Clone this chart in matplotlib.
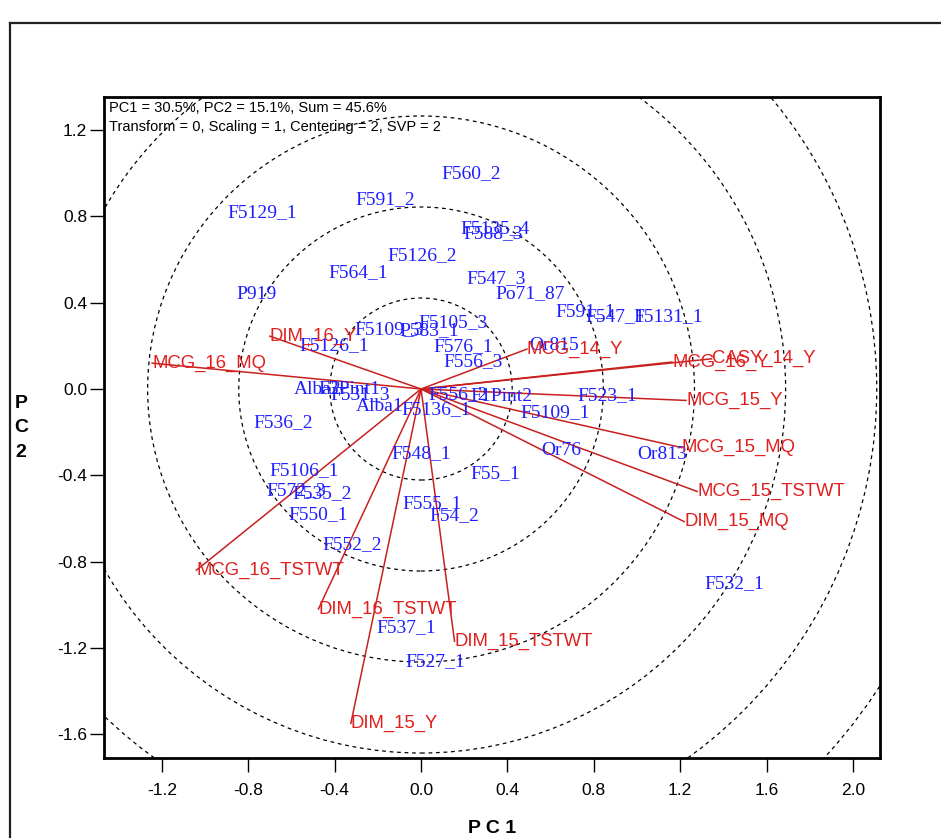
import matplotlib
matplotlib.use("Agg")
import matplotlib.pyplot as plt
from matplotlib.patches import Circle
from matplotlib.lines import Line2D

# ---- data ----
geno_names = ["F560_2", "F591_2", "F5129_1", "F5135_4", "F588_3", "F5126_2", "F564_1",
              "F547_3", "Po71_87", "P919", "F591_1", "F547_1", "F5131_1", "F5105_3",
              "F5109_3", "P583_1", "F5126_1", "F576_1", "F556_3", "Or815", "Alba2",
              "F3Pint1", "F531_3", "Alba1", "F5136_1", "F556_2", "F1Pint2", "F523_1",
              "F5109_1", "F536_2", "Or76", "Or813", "F548_1", "F55_1", "F5106_1",
              "F572_3", "F535_2", "F550_1", "F555_1", "F54_2", "F552_2", "F537_1",
              "F527_1", "F532_1"]
geno_x = [0.231, -0.167, -0.736, 0.343, 0.333, 0.005, -0.290,
          0.347, 0.505, -0.760, 0.760, 0.898, 1.143, 0.148,
          -0.150, 0.040, -0.400, 0.194, 0.240, 0.615, -0.477,
          -0.330, -0.280, -0.190, 0.070, 0.170, 0.370, 0.860,
          0.620, -0.640, 0.650, 1.116, 0.000, 0.343, -0.540,
          -0.580, -0.460, -0.477, 0.050, 0.153, -0.320, -0.070,
          0.065, 1.449]
geno_y = [0.997, 0.876, 0.816, 0.745, 0.722, 0.617, 0.540,
          0.510, 0.440, 0.440, 0.360, 0.336, 0.334, 0.306,
          0.275, 0.270, 0.200, 0.195, 0.125, 0.200, 0.000,
          0.000, -0.025, -0.080, -0.097, -0.025, -0.035, -0.030,
          -0.110, -0.157, -0.287, -0.306, -0.300, -0.394, -0.380,
          -0.470, -0.487, -0.584, -0.533, -0.589, -0.723, -1.108,
          -1.266, -0.904]

var_names = ["MCG_16_MQ", "DIM_16_Y", "MCG_16_TSTWT", "DIM_16_TSTWT", "DIM_15_Y",
             "DIM_15_TSTWT", "DIM_15_MQ", "MCG_15_TSTWT", "MCG_15_MQ", "MCG_15_Y",
             "MCG_16_Y", "CASY_14_Y", "MCG_14_Y"]
var_x = [-1.245, -0.700, -1.040, -0.475, -0.325,
         0.155, 1.218, 1.278, 1.208, 1.227,
         1.162, 1.345, 0.490]
var_y = [0.120, 0.245, -0.840, -1.020, -1.550,
         -1.170, -0.615, -0.475, -0.272, -0.053,
         0.125, 0.140, 0.185]

circle_radii = [0.422, 0.844, 1.266, 1.688, 2.110, 2.532]

xticks = [-1.2, -0.8, -0.4, 0.0, 0.4, 0.8, 1.2, 1.6, 2.0]
yticks = [1.2, 0.8, 0.4, 0.0, -0.4, -0.8, -1.2, -1.6]

info_line1 = "PC1 = 30.5%, PC2 = 15.1%, Sum = 45.6%"
info_line2 = "Transform = 0, Scaling = 1, Centering = 2, SVP = 2"

# ---- figure ----
fig = plt.figure(figsize=(9.41, 8.38), dpi=100)
ax = fig.add_axes([104 / 941, 1 - 758 / 838, (880 - 104) / 941, (758 - 97) / 838])
ax.set_xlim(-1.468, 2.125)
ax.set_ylim(-1.711, 1.354)

# outer frame
fx = 10 / 941
fy = 1 - 23 / 838
fig.add_artist(Line2D([fx, fx], [0, fy], transform=fig.transFigure, color="#222222", lw=1.6))
fig.add_artist(Line2D([fx, 1], [fy, fy], transform=fig.transFigure, color="#222222", lw=1.6))

for r in circle_radii:
    ax.add_patch(Circle((0, 0), r, fill=False, ls=(0, (3, 3)), lw=0.9, color="black"))

red_line = "#C8201E"
red_text = "#E0201E"
blue = "#1E1EFF"

for name, x, y in zip(var_names, var_x, var_y):
    ax.plot([0, x], [0, y], color=red_line, lw=1.1, zorder=2)

for name, x, y in zip(geno_names, geno_x, geno_y):
    ax.text(x, y, name, color=blue, ha="center", va="center", fontsize=14,
            family="Liberation Serif", zorder=3)

for name, x, y in zip(var_names, var_x, var_y):
    ax.text(x, y, name, color=red_text, ha="left", va="center", fontsize=13.3,
            family="Liberation Sans", zorder=4)

ax.text(0.006, 0.994, info_line1, transform=ax.transAxes, ha="left", va="top",
        fontsize=10.5, family="Liberation Sans", color="black")
ax.text(0.006, 0.965, info_line2, transform=ax.transAxes, ha="left", va="top",
        fontsize=10.5, family="Liberation Sans", color="black")

ax.set_xticks(xticks)
ax.set_xticklabels([f"{v:.1f}" for v in xticks])
ax.set_yticks(yticks)
ax.set_yticklabels([f"{v:.1f}" for v in yticks])
ax.tick_params(direction="out", length=10, width=1, labelsize=12.5,
               top=False, right=False)
ax.tick_params(axis="x", pad=8)
ax.tick_params(axis="y", pad=2)
for lab in ax.get_xticklabels() + ax.get_yticklabels():
    lab.set_family("Liberation Sans")
for sp in ax.spines.values():
    sp.set_linewidth(2)

fig.text(492 / 941, 1 - 828 / 838, "P C 1", ha="center", va="center", fontsize=14,
         fontweight="bold", family="Liberation Sans")
fig.text(21 / 941, 1 - 428 / 838, "P\nC\n2", ha="center", va="center", fontsize=14,
         fontweight="bold", family="Liberation Sans", linespacing=1.55)

fig.savefig("out.png", dpi=100)
